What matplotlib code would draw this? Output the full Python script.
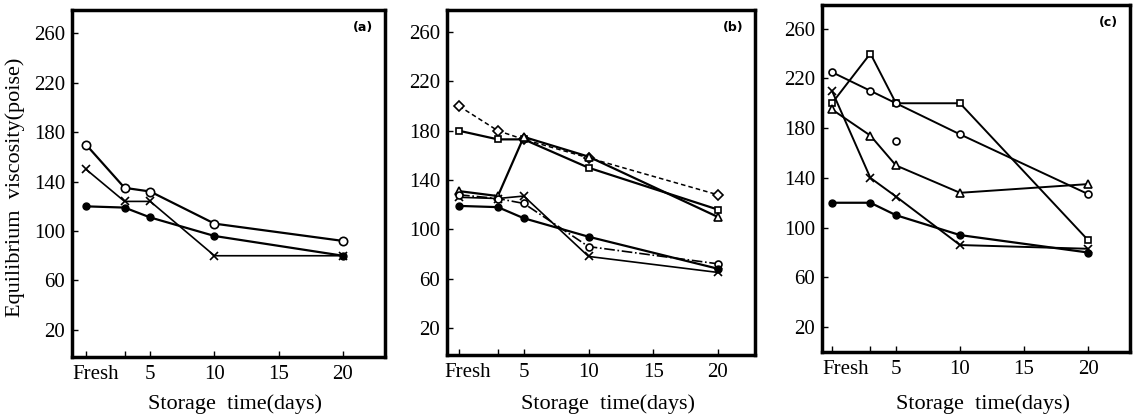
import matplotlib
matplotlib.use('Agg')
import matplotlib.pyplot as plt

plt.rcParams['font.family'] = ['Liberation Serif', 'DejaVu Serif']

days = [0, 3, 5, 10, 20]

# panel (a)
a_open = [170, 135, 132, 106, 92]
a_cross = [150, 124, 124, 80, 80]
a_filled = [120, 119, 111, 96, 80]

# panel (b)
b_diamond = [200, 180, 173, 158, 128]
b_square = [180, 173, 173, 150, 116]
b_triangle = [131, 127, 175, 159, 110]
b_cross = [126, 125, 127, 78, 65]
b_open = [128, 125, 121, 86, 72]
b_filled = [119, 118, 109, 94, 68]

# panel (c)
c_square = [200, 240, 200, 200, 90]
c_open = [225, 210, 200, 175, 127]
c_cross = [210, 140, 125, 86, 83]
c_triangle = [195, 174, 150, 128, 135]
c_filled = [120, 120, 110, 94, 80]
c_stray_x, c_stray_y = [5], [170]

yticks = [20, 60, 100, 140, 180, 220, 260]
xticks = [0, 3, 5, 10, 15, 20]
xticklabels = ['', '', '5', '10', '15', '20']

W, H = 1134, 419
fig = plt.figure(figsize=(W / 100, H / 100), dpi=100)


def make_ax(left, right, top, bottom, xlim, ylim, tag, fresh_x):
    ax = fig.add_axes([left / W, 1 - bottom / H, (right - left) / W, (bottom - top) / H])
    ax.set_xlim(*xlim)
    ax.set_ylim(*ylim)
    ax.set_yticks(yticks)
    ax.set_xticks(xticks, xticklabels)
    ax.set_xticks([fresh_x], ['Fresh'], minor=True)
    ax.tick_params(which='major', direction='in', length=4, width=1, labelsize=15, pad=5)
    ax.tick_params(which='minor', length=0, labelsize=15, pad=6)
    ax.tick_params(axis='x', which='major', pad=6)
    for s in ax.spines.values():
        s.set_linewidth(2.5)
    ax.text(0.93, 0.95, tag, transform=ax.transAxes, ha='center', va='center',
            fontsize=9, fontweight='bold', family='DejaVu Sans')
    fig.text((left + right) / 2 / W + 0.006, 1 - 404 / H, 'Storage  time(days)',
             ha='center', va='center', fontsize=16)
    return ax


line = dict(color='black', lw=1.6)
openm = dict(mfc='white', mec='black', mew=1.2, ms=6)

ax = make_ax(72, 385, 10, 357, (-1.09, 23.27), (-2, 279), '(a)', 0.78)
ax.plot(days, a_open, marker='o', **line, **openm)
ax.plot(days, a_cross, marker='x', color='black', lw=1.2, ms=6, mew=1.2)
ax.plot(days, a_filled, marker='o', color='black', lw=1.6, ms=5)

ax = make_ax(447, 755, 10, 355, (-0.93, 22.86), (-2, 278), '(b)', 0.7)
ax.plot(days, b_diamond, marker='D', ls=(0, (3, 2)), color='black', lw=1.1,
        mfc='white', mec='black', mew=1.2, ms=5)
ax.plot(days, b_square, marker='s', **line, mfc='white', mec='black', mew=1.2, ms=5)
ax.plot(days, b_triangle, marker='^', **line, **openm)
ax.plot(days, b_cross, marker='x', color='black', lw=1.2, ms=6, mew=1.2)
ax.plot(days, b_open, marker='o', ls='-.', color='black', lw=1.2,
        mfc='white', mec='black', mew=1.2, ms=5)
ax.plot(days, b_filled, marker='o', color='black', lw=1.6, ms=5)

ax = make_ax(822, 1130, 5, 352, (-0.78, 23.28), (0, 279), '(c)', 1.1)
ax.plot(days, c_square, marker='s', color='black', lw=1.4,
        mfc='white', mec='black', mew=1.2, ms=5)
ax.plot(days, c_open, marker='o', color='black', lw=1.4,
        mfc='white', mec='black', mew=1.2, ms=5)
ax.plot(c_stray_x, c_stray_y, marker='o', ls='none', mfc='white', mec='black', mew=1.2, ms=5)
ax.plot(days, c_cross, marker='x', color='black', lw=1.4, ms=6, mew=1.2)
ax.plot(days, c_triangle, marker='^', color='black', lw=1.4, **openm)
ax.plot(days, c_filled, marker='o', color='black', lw=1.6, ms=5)

fig.text(15 / W, 1 - 187 / H, 'Equilibrium  viscosity(poise)', rotation=90,
         ha='center', va='center', fontsize=16)

fig.savefig('out.png', dpi=100)
